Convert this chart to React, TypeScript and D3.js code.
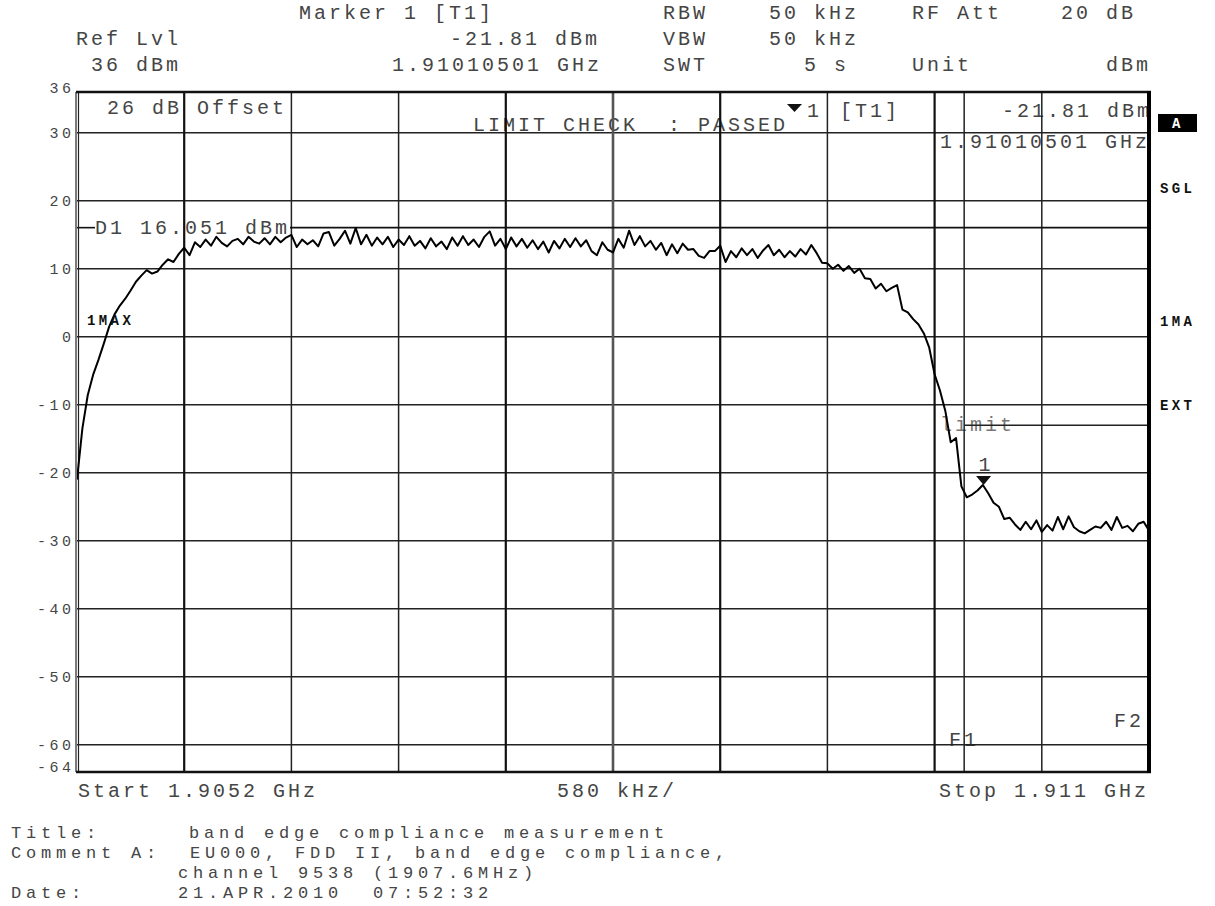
import React from 'react';
import * as d3 from 'd3';

// ---- sweep settings ----
const START_MHZ = 1905.2;
const STOP_MHZ = 1911.0;
const SPAN_DIV_MHZ = 0.58;
const REF_LEVEL = 36;
const BOTTOM_LEVEL = -64;
const yTickValues = [30, 20, 10, 0, -10, -20, -30, -40, -50, -60];
const yEdgeLabels = [36, -64];

// ---- display lines ----
const D1_LEVEL = 16.051;
const LIMIT_LEVEL = -13;
const F1_MHZ = 1910.0;
const F2_MHZ = 1911.0;

// ---- marker ----
const markerFreqMHz = [1910.10501];
const markerLevel = [-21.81];

// ---- trace (201 sweep points, dBm) ----
const traceLevels = [
  -21.0, -13.5, -8.6, -5.6, -3.4, -1.0, 1.5, 3.3, 4.6, 5.6,
  6.8, 8.1, 9.0, 9.8, 9.3, 9.6, 10.6, 11.4, 11.0, 12.2,
  13.1, 12.0, 13.9, 13.2, 14.3, 13.4, 14.7, 13.8, 13.3, 14.1,
  14.4, 13.6, 14.7, 14.0, 13.7, 14.5, 13.6, 14.7, 13.9, 14.6,
  15.0, 13.2, 14.3, 13.6, 14.2, 13.3, 15.2, 15.4, 13.4, 14.4,
  15.6, 13.7, 16.0, 13.6, 15.0, 13.4, 14.6, 13.6, 14.7, 13.2,
  14.3, 13.5, 14.8, 13.4, 14.1, 13.0, 14.5, 13.3, 14.0, 12.9,
  14.6, 13.4, 14.8, 13.5, 14.3, 13.2, 14.7, 15.5, 13.4, 14.4,
  12.9, 14.6, 13.3, 14.4, 13.1, 14.2, 12.9, 14.0, 12.4, 14.1,
  13.0, 14.4, 13.2, 14.5, 13.3, 14.2, 12.6, 12.0, 13.9, 12.8,
  12.4, 14.4, 13.1, 15.6, 13.5, 14.8, 13.3, 14.1, 12.8, 13.8,
  12.0, 13.6, 12.3, 13.7, 12.8, 12.9, 11.9, 11.6, 12.6, 12.6,
  13.4, 11.0, 12.6, 11.7, 13.0, 12.0, 12.9, 11.6, 12.7, 13.5,
  12.0, 12.8, 11.7, 12.6, 11.8, 12.9, 12.1, 13.5, 12.3, 10.9,
  10.8, 10.0, 10.6, 9.7, 10.4, 9.4, 10.0, 8.6, 8.5, 7.1,
  7.8, 6.7, 7.2, 7.6, 4.0, 3.6, 2.6, 1.8, 0.5, -1.6,
  -5.5, -7.9, -10.9, -15.5, -14.9, -22.0, -23.6, -23.2, -22.6, -21.8,
  -23.0, -24.4, -25.0, -26.8, -26.6, -27.6, -28.4, -27.2, -28.3, -27.0,
  -28.7, -27.7, -28.5, -26.5, -28.3, -26.4, -28.0, -28.6, -28.9, -28.4,
  -27.9, -28.1, -27.2, -28.4, -26.5, -28.1, -27.8, -28.6, -27.5, -27.2,
  -28.5,
];

// ---- texts ----
const headerLeft = ['Ref Lvl', '36 dBm'];
const markerHeader = ['Marker 1 [T1]', '-21.81 dBm', '1.91010501 GHz'];
const bwLabels = ['RBW', 'VBW', 'SWT'];
const bwValues = ['50 kHz', '50 kHz', '5 s'];
const attLabels = ['RF Att', 'Unit'];
const attValues = ['20 dB', 'dBm'];
const sideLabels = ['SGL', '1MA', 'EXT'];
const limitCheckText = 'LIMIT CHECK  : PASSED';
const footerKeys = ['Title:', 'Comment A:', '', 'Date:'];
const footerValues = [
  'band edge compliance measurement',
  'EU000, FDD II, band edge compliance,',
  'channel 9538 (1907.6MHz)',
  '21.APR.2010  07:52:32',
];

const MONO = '"Liberation Mono", "DejaVu Sans Mono", monospace';
const TXT = '#454545';

export default function App() {
  const left = 77;
  const right = 1149;
  const top = 92;
  const bottom = 772;

  const x = d3.scaleLinear().domain([START_MHZ, STOP_MHZ]).range([left, right]);
  const y = d3.scaleLinear().domain([BOTTOM_LEVEL, REF_LEVEL]).range([bottom, top]);

  const step = (STOP_MHZ - START_MHZ) / (traceLevels.length - 1);
  const traceData = traceLevels.map((v, i) => [START_MHZ + i * step, v] as [number, number]);
  const line = d3
    .line<[number, number]>()
    .x((d) => x(d[0]))
    .y((d) => y(d[1]));

  const divs = d3.range(1, 10).map((i) => START_MHZ + i * SPAN_DIV_MHZ);
  const divWidth = [2.2, 1.5, 1.5, 2.2, 2.6, 2.2, 1.5, 2.2, 1.5];
  const divColor = ['#111', '#222', '#222', '#111', '#555', '#111', '#222', '#111', '#222'];

  const big = { fontFamily: MONO, fontSize: 20, letterSpacing: 3, fill: TXT, xmlSpace: 'preserve' } as const;
  const foot = { fontFamily: MONO, fontSize: 17, letterSpacing: 4.8, fill: TXT, xmlSpace: 'preserve' } as const;
  const tick = { fontFamily: MONO, fontSize: 15, letterSpacing: 3.5, fill: TXT } as const;
  const bold = { fontFamily: MONO, fontSize: 14, letterSpacing: 3.4, fontWeight: 700, fill: '#111' } as const;

  const mx = x(markerFreqMHz[0]);
  const my = y(markerLevel[0]);

  return (
    <svg
      width={1215}
      height={906}
      xmlSpace="preserve"
      style={{ position: 'absolute', left: 0, top: 0, background: '#fff', whiteSpace: 'pre' }}
    >
      <rect x={0} y={0} width={1215} height={906} fill="#fff" />
      <defs>
        <clipPath id="plotclip">
          <rect x={left} y={top} width={right - left - 2} height={bottom - top} />
        </clipPath>
      </defs>

      {/* header */}
      <text {...big} x={299} y={19}>{markerHeader[0]}</text>
      <text {...big} x={76} y={45}>{headerLeft[0]}</text>
      <text {...big} x={91} y={71}>{headerLeft[1]}</text>
      <text {...big} x={450} y={45}>{markerHeader[1]}</text>
      <text {...big} x={392} y={71}>{markerHeader[2]}</text>
      {bwLabels.map((t, i) => (
        <text key={t} {...big} x={663} y={19 + i * 26}>{t}</text>
      ))}
      <text {...big} x={769} y={19}>{bwValues[0]}</text>
      <text {...big} x={769} y={45}>{bwValues[1]}</text>
      <text {...big} x={804} y={71}>{bwValues[2]}</text>
      <text {...big} x={912} y={19}>{attLabels[0]}</text>
      <text {...big} x={912} y={71}>{attLabels[1]}</text>
      <text {...big} x={1061} y={19}>{attValues[0]}</text>
      <text {...big} x={1106} y={71}>{attValues[1]}</text>

      {/* in-plot texts (under grid) */}
      <g clipPath="url(#plotclip)">
        <text {...big} x={107} y={114}>26 dB Offset</text>
        <text {...big} x={473} y={131}>{limitCheckText}</text>
        <text {...big} x={840} y={117}>[T1]</text>
        <text {...big} x={1002} y={117}>{markerHeader[1]}</text>
        <text {...big} x={940} y={148}>{markerHeader[2]}</text>
        <path d="M787,104 L802,104 L794.5,112 Z" fill="#111" />
        <text {...big} x={807} y={117}>1</text>
        <text {...big} x={95} y={234}>{`D1 ${D1_LEVEL.toFixed(3)} dBm`}</text>
        <text {...big} x={940} y={431} fill="#777">limit</text>
        <text {...big} x={949} y={746}>F1</text>
        <text {...big} x={1114} y={727}>F2</text>
      </g>

      {/* horizontal grid */}
      {yTickValues.map((v) => (
        <line key={v} x1={left} x2={right} y1={y(v)} y2={y(v)} stroke="#222" strokeWidth={1.6} />
      ))}
      {/* vertical grid */}
      {divs.map((f, i) => (
        <line key={i} x1={x(f)} x2={x(f)} y1={top} y2={bottom} stroke={divColor[i]} strokeWidth={divWidth[i]} />
      ))}
      {/* F1 line */}
      <line x1={x(F1_MHZ)} x2={x(F1_MHZ)} y1={top} y2={bottom} stroke="#222" strokeWidth={1.5} />
      {/* D1 line */}
      <line x1={left} x2={95} y1={y(D1_LEVEL)} y2={y(D1_LEVEL)} stroke="#111" strokeWidth={1.6} />
      <line x1={290} x2={right} y1={y(D1_LEVEL)} y2={y(D1_LEVEL)} stroke="#111" strokeWidth={1.6} />
      {/* limit line */}
      <line x1={x(F1_MHZ)} x2={x(F2_MHZ)} y1={y(LIMIT_LEVEL)} y2={y(LIMIT_LEVEL)} stroke="#222" strokeWidth={1.6} />

      {/* border */}
      <line x1={left - 1} x2={left - 1} y1={top} y2={bottom} stroke="#222" strokeWidth={1.2} />
      <line x1={left + 1.5} x2={left + 1.5} y1={top} y2={bottom} stroke="#222" strokeWidth={1.2} />
      <line x1={left - 1} x2={right + 2} y1={top} y2={top} stroke="#111" strokeWidth={2.4} />
      <line x1={left - 1} x2={right + 2} y1={bottom} y2={bottom} stroke="#111" strokeWidth={2.4} />
      <line x1={right} x2={right} y1={top - 1} y2={bottom + 1} stroke="#000" strokeWidth={4} />

      {/* trace */}
      <path d={line(traceData) || ''} fill="none" stroke="#000" strokeWidth={2} strokeLinejoin="round" clipPath="url(#plotclip)" />

      {/* marker */}
      <path d={`M${mx - 7.5},${my - 9} L${mx + 7.5},${my - 9} L${mx},${my} Z`} fill="#111" />
      <text {...big} x={mx - 5} y={my - 14}>1</text>

      {/* 1MAX label */}
      <text {...bold} x={87} y={325}>1MAX</text>

      {/* y tick labels */}
      {yTickValues.map((v) => (
        <text key={v} {...tick} x={74.5} y={y(v) + 5} textAnchor="end">{String(v)}</text>
      ))}
      <text {...tick} x={74.5} y={y(yEdgeLabels[0]) + 1} textAnchor="end">{String(yEdgeLabels[0])}</text>
      <text {...tick} x={74.5} y={y(yEdgeLabels[1])} textAnchor="end">{String(yEdgeLabels[1])}</text>

      {/* right side labels */}
      <rect x={1158} y={114} width={39} height={18} fill="#000" />
      <text {...bold} x={1172} y={128} fill="#fff">A</text>
      <text {...bold} x={1160} y={193}>{sideLabels[0]}</text>
      <text {...bold} x={1160} y={326}>{sideLabels[1]}</text>
      <text {...bold} x={1160} y={410}>{sideLabels[2]}</text>

      {/* x axis labels */}
      <text {...big} x={78} y={797}>{`Start ${(START_MHZ / 1000).toFixed(4)} GHz`}</text>
      <text {...big} x={557} y={797}>{`${Math.round(SPAN_DIV_MHZ * 1000)} kHz/`}</text>
      <text {...big} x={939} y={797}>{`Stop ${(STOP_MHZ / 1000).toFixed(3)} GHz`}</text>

      {/* footer */}
      {footerKeys.map((k, i) => (
        <text key={'k' + i} {...foot} x={11} y={838 + i * 20}>{k}</text>
      ))}
      <text {...foot} x={189} y={838}>{footerValues[0]}</text>
      <text {...foot} x={190} y={858}>{footerValues[1]}</text>
      <text {...foot} x={178} y={878}>{footerValues[2]}</text>
      <text {...foot} x={178} y={898}>{footerValues[3]}</text>
    </svg>
  );
}
